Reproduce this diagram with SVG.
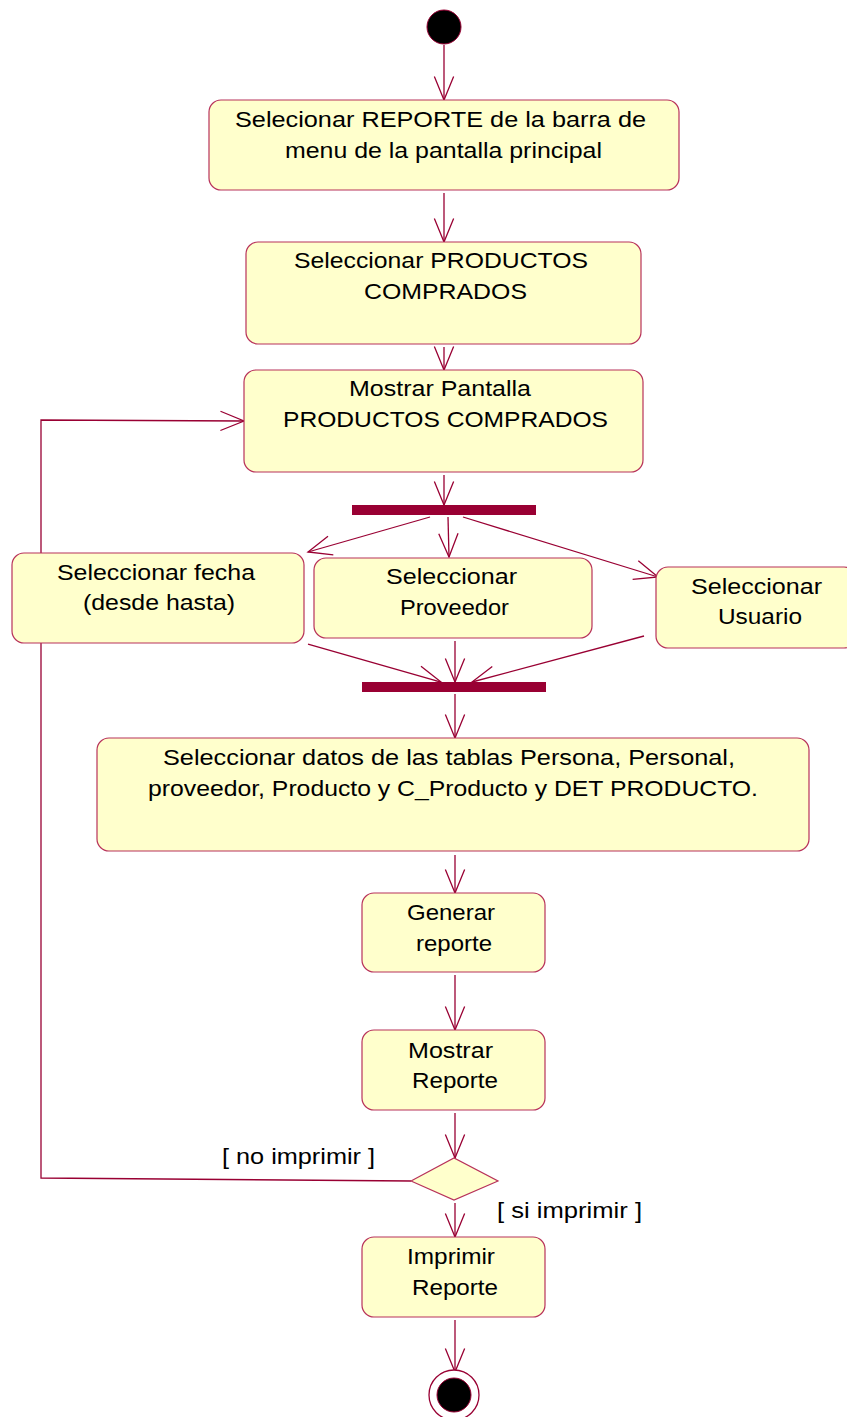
<svg xmlns="http://www.w3.org/2000/svg" width="847" height="1417" viewBox="0 0 847 1417">
<defs>
<marker id="arr" markerUnits="userSpaceOnUse" markerWidth="30" markerHeight="30" viewBox="-24 -12 28 24" refX="0" refY="0" orient="auto">
<path d="M-22,-9 L0,0 L-22,9" fill="none" stroke="#990033" stroke-width="1.2"/>
</marker>
</defs>
<style>
.box{fill:#FFFFCC;stroke:#B8325A;stroke-width:1.2}
.bar{fill:#990033}
.c{fill:none;stroke:#990033;stroke-width:1.3;marker-end:url(#arr)}
text{font-size:22px;fill:#000}
</style>
<rect width="847" height="1417" fill="#fff"/>
<g id="connectors">
<line class="c" x1="444" y1="45" x2="444" y2="100"/>
<line class="c" x1="444" y1="193" x2="444" y2="242"/>
<line class="c" x1="444" y1="347" x2="444" y2="370"/>
<line class="c" x1="444" y1="475" x2="444" y2="505"/>
<line class="c" x1="430" y1="517" x2="308" y2="552"/>
<line class="c" x1="448" y1="517" x2="449" y2="557"/>
<line class="c" x1="463" y1="517" x2="658" y2="577"/>
<line class="c" x1="308" y1="644" x2="441" y2="682"/>
<line class="c" x1="455" y1="641" x2="455" y2="682"/>
<line class="c" x1="644" y1="636" x2="472" y2="682"/>
<line class="c" x1="455" y1="694" x2="455" y2="738"/>
<line class="c" x1="455" y1="855" x2="455" y2="893"/>
<line class="c" x1="455" y1="975" x2="455" y2="1030"/>
<line class="c" x1="455" y1="1113" x2="455" y2="1158"/>
<line class="c" x1="455" y1="1203" x2="455" y2="1237"/>
<line class="c" x1="455" y1="1320" x2="455" y2="1372"/>
<polyline class="c" points="411,1181 41,1178 41,420 244,421"/>
</g>
<g font-family="'Liberation Sans', Arimo, Arial, sans-serif" xml:space="preserve" lengthAdjust="spacingAndGlyphs">
<g id="start"><circle cx="444" cy="27" r="17" fill="#000" stroke="#990033" stroke-width="1"/></g>
<g id="n1"><rect class="box" x="209" y="100" width="470" height="90" rx="12"/>
<text x="235" y="127" textLength="411" lengthAdjust="spacingAndGlyphs">Selecionar REPORTE  de la barra de</text>
<text x="285" y="158" textLength="317" lengthAdjust="spacingAndGlyphs">menu de la pantalla principal</text></g>
<g id="n2"><rect class="box" x="246" y="242" width="395" height="102" rx="12"/>
<text x="294" y="268" textLength="294" lengthAdjust="spacingAndGlyphs">Seleccionar PRODUCTOS</text>
<text x="364" y="299" textLength="163" lengthAdjust="spacingAndGlyphs">COMPRADOS</text></g>
<g id="n3"><rect class="box" x="244" y="370" width="399" height="102" rx="12"/>
<text x="349" y="396" textLength="182" lengthAdjust="spacingAndGlyphs">Mostrar Pantalla</text>
<text x="283" y="427" textLength="325" lengthAdjust="spacingAndGlyphs">PRODUCTOS COMPRADOS</text></g>
<g id="fork"><rect class="bar" x="352" y="505" width="184" height="10"/></g>
<g id="n4"><rect class="box" x="12" y="553" width="292" height="90" rx="12"/>
<text x="57" y="580" textLength="198" lengthAdjust="spacingAndGlyphs">Seleccionar fecha</text>
<text x="83" y="610" textLength="152" lengthAdjust="spacingAndGlyphs">(desde hasta)</text></g>
<g id="n5"><rect class="box" x="314" y="558" width="278" height="80" rx="12"/>
<text x="386" y="584" textLength="131" lengthAdjust="spacingAndGlyphs">Seleccionar</text>
<text x="400" y="615" textLength="109" lengthAdjust="spacingAndGlyphs">Proveedor</text></g>
<g id="n6"><rect class="box" x="656" y="567" width="200" height="81" rx="12"/>
<text x="691" y="594" textLength="131" lengthAdjust="spacingAndGlyphs">Seleccionar</text>
<text x="718" y="624" textLength="84" lengthAdjust="spacingAndGlyphs">Usuario</text></g>
<g id="join"><rect class="bar" x="362" y="682" width="184" height="10"/></g>
<g id="n7"><rect class="box" x="97" y="738" width="712" height="113" rx="12"/>
<text x="163" y="765" textLength="572" lengthAdjust="spacingAndGlyphs">Seleccionar datos de las tablas Persona, Personal,</text>
<text x="148" y="796" textLength="610" lengthAdjust="spacingAndGlyphs">proveedor, Producto y C_Producto y DET PRODUCTO.</text></g>
<g id="n8"><rect class="box" x="362" y="893" width="183" height="79" rx="12"/>
<text x="407" y="920" textLength="88" lengthAdjust="spacingAndGlyphs">Generar</text>
<text x="416" y="951" textLength="76" lengthAdjust="spacingAndGlyphs">reporte</text></g>
<g id="n9"><rect class="box" x="362" y="1030" width="183" height="80" rx="12"/>
<text x="408" y="1058" textLength="85" lengthAdjust="spacingAndGlyphs">Mostrar</text>
<text x="412" y="1088" textLength="86" lengthAdjust="spacingAndGlyphs">Reporte</text></g>
<g id="decision"><polygon points="411,1181 454,1158 498,1181 454,1200" fill="#FFFFCC" stroke="#B8325A" stroke-width="1.2"/>
<text x="222" y="1164" textLength="153" lengthAdjust="spacingAndGlyphs">[ no imprimir ]</text>
<text x="497" y="1218" textLength="145" lengthAdjust="spacingAndGlyphs">[ si imprimir ]</text></g>
<g id="n10"><rect class="box" x="362" y="1237" width="183" height="80" rx="12"/>
<text x="407" y="1264" textLength="88" lengthAdjust="spacingAndGlyphs">Imprimir</text>
<text x="412" y="1295" textLength="86" lengthAdjust="spacingAndGlyphs">Reporte</text></g>
<g id="end"><circle cx="454" cy="1395" r="25" fill="#fff" stroke="#990033" stroke-width="1.3"/>
<circle cx="454" cy="1395" r="17" fill="#000" stroke="#990033" stroke-width="1"/></g>
</g>
</svg>
